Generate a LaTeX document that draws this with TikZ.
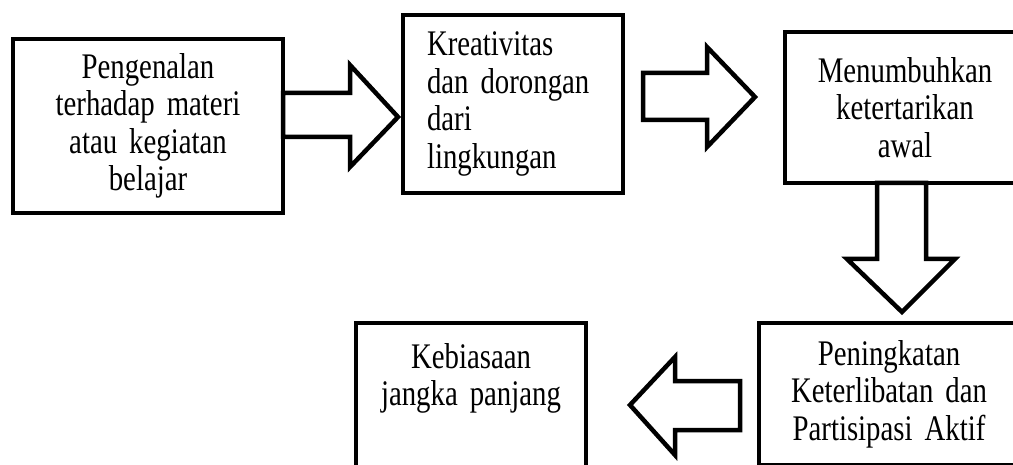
\documentclass[tikz,border=0pt]{standalone}
\usepackage{fontspec}
\setmainfont{Liberation Serif}[FakeStretch=0.8]
\usetikzlibrary{calc}
\newcommand\mytxtfont{\fontsize{36}{37.5}\selectfont\fontdimen2\font=5.5pt\relax}
\begin{document}
\begin{tikzpicture}[x=1pt,y=1pt,
  txt/.style={font=\mytxtfont},
  box/.style={draw, line width=4.5pt, line join=miter, inner sep=0pt, outer sep=0pt, txt},
  blk/.style={draw, line width=4.5pt, line join=miter, fill=white}]
\useasboundingbox (0,0) rectangle (1013,-465);
\clip (0,0) rectangle (1013,-465);
\node[box, anchor=north west, minimum width=270pt, minimum height=174pt,
  text width=250pt, align=center] (b1) at (13,-39)
  {Pengenalan\\terhadap materi\\atau kegiatan\\belajar};
\node[box, anchor=north west, minimum width=220pt, minimum height=178pt,
  text width=172pt, align=left] (b2) at (403,-15)
  {Kreativitas\\dan dorongan\\dari\\lingkungan};
\node[box, anchor=north west, minimum width=240pt, minimum height=151pt,
  text width=220pt, align=center] (b3) at (785,-32)
  {Menumbuhkan\\ketertarikan\\awal};
\node[box, anchor=north west, minimum width=260pt, minimum height=142pt,
  text width=240pt, align=center] (b4) at (759,-323)
  {Peningkatan\\Keterlibatan dan\\Partisipasi Aktif};
\node[box, anchor=north west, minimum width=230pt, minimum height=200pt] (b5) at (356,-323) {};
\node[anchor=north, inner sep=0pt, text width=220pt, align=center, txt] (b5t)
  at ($(b5.north)+(0,-20)$) {Kebiasaan\\jangka panjang};
% arrows
\draw[blk] (b1.east) ++(0,33) -- ++(67,0) -- ++(0,28) -- ++(48,-52) -- ++(-48,-50)
  -- ++(0,30) -- ++(-67,0) -- cycle;
\draw[blk] (b2.east) ++(20,31) -- ++(64,0) -- ++(0,26) -- ++(48,-50) -- ++(-48,-50)
  -- ++(0,27) -- ++(-64,0) -- cycle;
\draw[blk] (b3.south) ++(-28,0) -- ++(49,0) -- ++(0,-76) -- ++(29,0) -- ++(-53,-53)
  -- ++(-55,53) -- ++(30,0) -- cycle;
\draw[blk] (b4.west) ++(-19,13) -- ++(-65,0) -- ++(0,24) -- ++(-45,-48) -- ++(45,-50)
  -- ++(0,25) -- ++(65,0) -- cycle;
\end{tikzpicture}
\end{document}
